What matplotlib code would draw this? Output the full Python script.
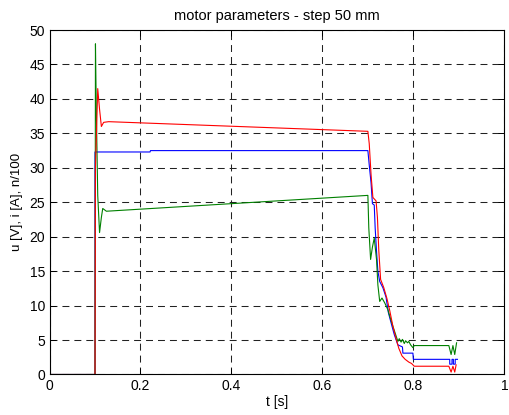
import matplotlib.pyplot as plt

# data (t in s)
blue_t = [0, 0.100, 0.100, 0.221, 0.222, 0.700, 0.703, 0.707, 0.710, 0.714, 0.716, 0.719,
          0.722, 0.726, 0.733, 0.740, 0.745, 0.751, 0.758, 0.766, 0.776, 0.777, 0.799,
          0.800, 0.880, 0.880, 0.885, 0.885, 0.888, 0.888, 0.892, 0.892, 0.897]
blue_v = [0, 0, 32.3, 32.3, 32.5, 32.5, 30.4, 27.8, 24.8, 24.6, 21.3, 17.9,
          15.0, 13.5, 12.6, 11.2, 9.0, 7.5, 5.8, 4.3, 4.0, 3.1, 3.1,
          2.2, 2.2, 1.5, 1.5, 2.2, 2.2, 1.5, 1.5, 2.2, 2.2]

green_t = [0, 0.100, 0.101, 0.1025, 0.106, 0.110, 0.114, 0.117, 0.125, 0.700, 0.702, 0.706,
           0.710, 0.714, 0.719, 0.722, 0.726, 0.731, 0.737, 0.744, 0.748, 0.755, 0.762,
           0.766, 0.769, 0.773, 0.776, 0.780, 0.783, 0.787, 0.790, 0.794, 0.799, 0.802,
           0.878, 0.883, 0.887, 0.891, 0.895]
green_v = [0, 0, 48.0, 40.0, 26.0, 20.6, 22.8, 24.1, 23.7, 26.0, 21.3, 16.7,
           18.5, 19.8, 16.7, 13.0, 10.6, 11.1, 10.4, 9.4, 8.5, 7.0, 5.6,
           4.8, 5.2, 4.7, 5.1, 4.5, 4.9, 4.6, 4.8, 4.3, 3.9, 4.2,
           4.2, 2.9, 4.2, 2.9, 4.6]

red_t = [0, 0.100, 0.101, 0.106, 0.110, 0.114, 0.119, 0.130, 0.700, 0.703, 0.707, 0.711,
         0.718, 0.721, 0.724, 0.728, 0.735, 0.742, 0.748, 0.755, 0.762, 0.768, 0.775,
         0.782, 0.790, 0.796, 0.802, 0.878, 0.883, 0.887, 0.891, 0.894]
red_v = [0, 0, 30.0, 41.5, 38.5, 36.0, 36.6, 36.7, 35.3, 33.5, 29.0, 25.7,
         25.2, 22.8, 18.0, 13.8, 12.6, 11.0, 9.3, 7.0, 5.2, 3.8, 2.7,
         2.2, 1.8, 1.6, 1.2, 1.2, 0.35, 1.2, 0.35, 1.4]

x_ticks = [0, 0.2, 0.4, 0.6, 0.8, 1]
x_labels = ['0', '0.2', '0.4', '0.6', '0.8', '1']
y_ticks = list(range(0, 51, 5))

plt.rcParams['font.family'] = ['Liberation Sans', 'DejaVu Sans']
plt.rcParams['lines.scale_dashes'] = False

fig = plt.figure(figsize=(5.09, 4.15), dpi=100)
ax = fig.add_axes([0.0973, 0.0976, 0.8935, 0.830])

ax.plot(blue_t, blue_v, color='#0000ff', lw=0.8)
ax.plot(green_t, green_v, color='#008000', lw=0.8)
ax.plot(red_t, red_v, color='#ff0000', lw=0.8)

ax.set_xlim(0, 1)
ax.set_ylim(0, 50)
ax.set_xticks(x_ticks)
ax.set_xticklabels(x_labels)
ax.set_yticks(y_ticks)
ax.tick_params(direction='in', top=True, right=True, length=4, width=0.7,
               labelsize=10, pad=3)
ax.grid(True, color='#222222', linestyle=(0, (5, 3.6)), linewidth=0.75)
for s in ax.spines.values():
    s.set_linewidth(0.8)

ax.set_title('motor parameters - step 50 mm', fontsize=10.5, pad=7)
ax.set_xlabel('t [s]', fontsize=10, labelpad=2)
ax.set_ylabel('u [V], i [A], n/100', fontsize=9.5, labelpad=5)

fig.savefig('out.png', dpi=100)
